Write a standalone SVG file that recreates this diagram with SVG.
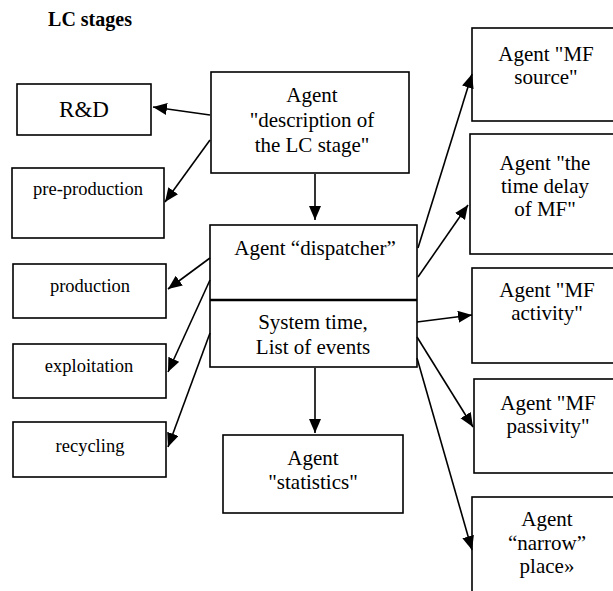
<svg xmlns="http://www.w3.org/2000/svg" width="613" height="591" viewBox="0 0 613 591">
  <defs>
    <marker id="arrow" markerUnits="userSpaceOnUse" markerWidth="15" markerHeight="13" refX="14" refY="6" orient="auto">
      <path d="M0,0 L14,6 L0,12 z" fill="#000"/>
    </marker>
    <style>
      .box { fill: #fff; stroke: #000; stroke-width: 1.6; }
      .t { font-family: "Liberation Serif", "Times New Roman", serif; fill: #000; text-anchor: middle; }
      .agent { font-size: 21px; }
      .stage { font-size: 18.5px; }
      .edge { stroke: #000; stroke-width: 1.6; fill: none; marker-end: url(#arrow); }
    </style>
  </defs>
  <rect width="613" height="591" fill="#fff"/>

  <text class="t" x="90" y="26" style="font-size:20px;font-weight:bold">LC stages</text>

  <!-- life-cycle stages -->
  <g id="rnd">
    <rect class="box" x="17" y="84" width="134" height="51"/>
    <text class="t" x="84" y="117" style="font-size:23px">R&amp;D</text>
  </g>
  <g id="preproduction">
    <rect class="box" x="12" y="168" width="152" height="70"/>
    <text class="t stage" x="88" y="195">pre-production</text>
  </g>
  <g id="production">
    <rect class="box" x="13" y="264" width="153" height="54"/>
    <text class="t stage" x="90" y="292">production</text>
  </g>
  <g id="exploitation">
    <rect class="box" x="13" y="344" width="153" height="54"/>
    <text class="t stage" x="89" y="372">exploitation</text>
  </g>
  <g id="recycling">
    <rect class="box" x="13" y="422" width="153" height="55"/>
    <text class="t stage" x="90" y="452">recycling</text>
  </g>

  <!-- central agents -->
  <g id="description">
    <rect class="box" x="211" y="72" width="198" height="101"/>
    <text class="t agent" x="312" y="102">Agent</text>
    <text class="t agent" x="312" y="127">"description of</text>
    <text class="t agent" x="312" y="152">the LC stage"</text>
  </g>
  <g id="dispatcher">
    <rect class="box" x="210" y="225" width="207" height="142"/>
    <line x1="210" y1="300" x2="417" y2="300" stroke="#000" stroke-width="2.6"/>
    <text class="t agent" x="315" y="255">Agent “dispatcher”</text>
    <text class="t agent" x="313" y="329">System time,</text>
    <text class="t agent" x="313" y="354">List of events</text>
  </g>
  <g id="statistics">
    <rect class="box" x="223" y="435" width="180" height="78"/>
    <text class="t agent" x="313" y="465">Agent</text>
    <text class="t agent" x="313" y="489">"statistics"</text>
  </g>

  <!-- MF agents -->
  <g id="mf-source">
    <rect class="box" x="472" y="28" width="150" height="93"/>
    <text class="t agent" x="546" y="61">Agent "MF</text>
    <text class="t agent" x="546" y="84">source"</text>
  </g>
  <g id="mf-delay">
    <rect class="box" x="470" y="134" width="152" height="120"/>
    <text class="t agent" x="545" y="170">Agent "the</text>
    <text class="t agent" x="545" y="193">time delay</text>
    <text class="t agent" x="545" y="216">of MF"</text>
  </g>
  <g id="mf-activity">
    <rect class="box" x="472" y="268" width="150" height="95"/>
    <text class="t agent" x="547" y="297">Agent "MF</text>
    <text class="t agent" x="547" y="320">activity"</text>
  </g>
  <g id="mf-passivity">
    <rect class="box" x="474" y="379" width="148" height="94"/>
    <text class="t agent" x="548" y="410">Agent "MF</text>
    <text class="t agent" x="548" y="433">passivity"</text>
  </g>
  <g id="narrow-place">
    <rect class="box" x="472" y="497" width="150" height="110"/>
    <text class="t agent" x="547" y="526">Agent</text>
    <text class="t agent" x="547" y="550">“narrow”</text>
    <text class="t agent" x="547" y="573">place»</text>
  </g>

  <!-- connectors -->
  <g id="connectors">
    <line class="edge" x1="210" y1="115" x2="153" y2="107"/>
    <line class="edge" x1="210" y1="140" x2="165" y2="202"/>
    <line class="edge" x1="315" y1="174" x2="315" y2="220"/>
    <line class="edge" x1="210" y1="258" x2="168" y2="289"/>
    <line class="edge" x1="210" y1="280" x2="168" y2="372"/>
    <line class="edge" x1="210" y1="333" x2="168" y2="447"/>
    <line class="edge" x1="315" y1="368" x2="315" y2="433"/>
    <line class="edge" x1="418" y1="248" x2="472" y2="74"/>
    <line class="edge" x1="418" y1="277" x2="468" y2="205"/>
    <line class="edge" x1="417" y1="322" x2="472" y2="315"/>
    <line class="edge" x1="417" y1="337" x2="473" y2="427"/>
    <line class="edge" x1="417" y1="358" x2="472" y2="550"/>
  </g>
</svg>
